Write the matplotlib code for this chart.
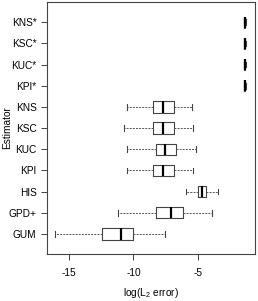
import matplotlib
matplotlib.use("Agg")
import matplotlib.pyplot as plt

plt.rcParams['font.family'] = ['Liberation Sans', 'DejaVu Sans']
plt.rcParams['axes.unicode_minus'] = False
plt.rcParams['mathtext.fontset'] = 'custom'
plt.rcParams['mathtext.rm'] = 'Liberation Sans'
plt.rcParams['mathtext.default'] = 'regular'

# estimators, bottom to top
labels = ["GUM", "GPD+", "HIS", "KPI", "KUC", "KSC", "KNS",
          "KPI*", "KUC*", "KSC*", "KNS*"]
whislo = [-16.06, -11.17, -5.94, -10.52, -10.52, -10.73, -10.52, -1.52, -1.52, -1.52, -1.52]
q1     = [-12.45, -8.25, -5.01, -8.50, -8.29, -8.50, -8.48, -1.46, -1.46, -1.46, -1.46]
med    = [-10.94, -7.09, -4.71, -7.73, -7.60, -7.75, -7.71, -1.42, -1.42, -1.42, -1.42]
q3     = [-10.02, -6.17, -4.40, -6.86, -6.75, -6.88, -6.88, -1.38, -1.38, -1.38, -1.38]
whishi = [-7.60, -3.99, -3.48, -5.40, -5.17, -5.42, -5.48, -1.33, -1.33, -1.33, -1.33]

stats = []
for i in range(len(labels)):
    stats.append(dict(label=labels[i], whislo=whislo[i], q1=q1[i], med=med[i],
                      q3=q3[i], whishi=whishi[i], fliers=[]))

fig = plt.figure(figsize=(2.58, 3.01), dpi=100)
ax = fig.add_axes([0.181, 0.157, 0.808, 0.835])

pos = list(range(1, len(labels) + 1))
ax.bxp(stats, positions=pos, widths=0.54, vert=False, showfliers=False,
       boxprops=dict(color='#444444', linewidth=0.8),
       medianprops=dict(color='black', linewidth=1.6),
       whiskerprops=dict(color='#555555', linewidth=0.7, linestyle=(0, (2, 1.2))),
       capprops=dict(color='#444444', linewidth=0.8))

ax.set_xlim(-16.68, -0.63)
ax.set_ylim(0.06, 11.94)
ax.set_xticks([-15, -10, -5])
ax.set_yticks(pos)
ax.set_yticklabels(labels)
ax.tick_params(labelsize=7.3, length=4.3, width=0.7, color='#444444', pad=3)
ax.tick_params(axis='x', pad=6)
for s in ax.spines.values():
    s.set_color('#444444')
    s.set_linewidth(0.8)

ax.set_xlabel("log(L$_2$ error)", fontsize=7.3, labelpad=6)
fig.text(7 / 258, 0.575, "Estimator", fontsize=7.3, rotation=90,
         ha='center', va='center')

fig.savefig("out.png", dpi=100)
